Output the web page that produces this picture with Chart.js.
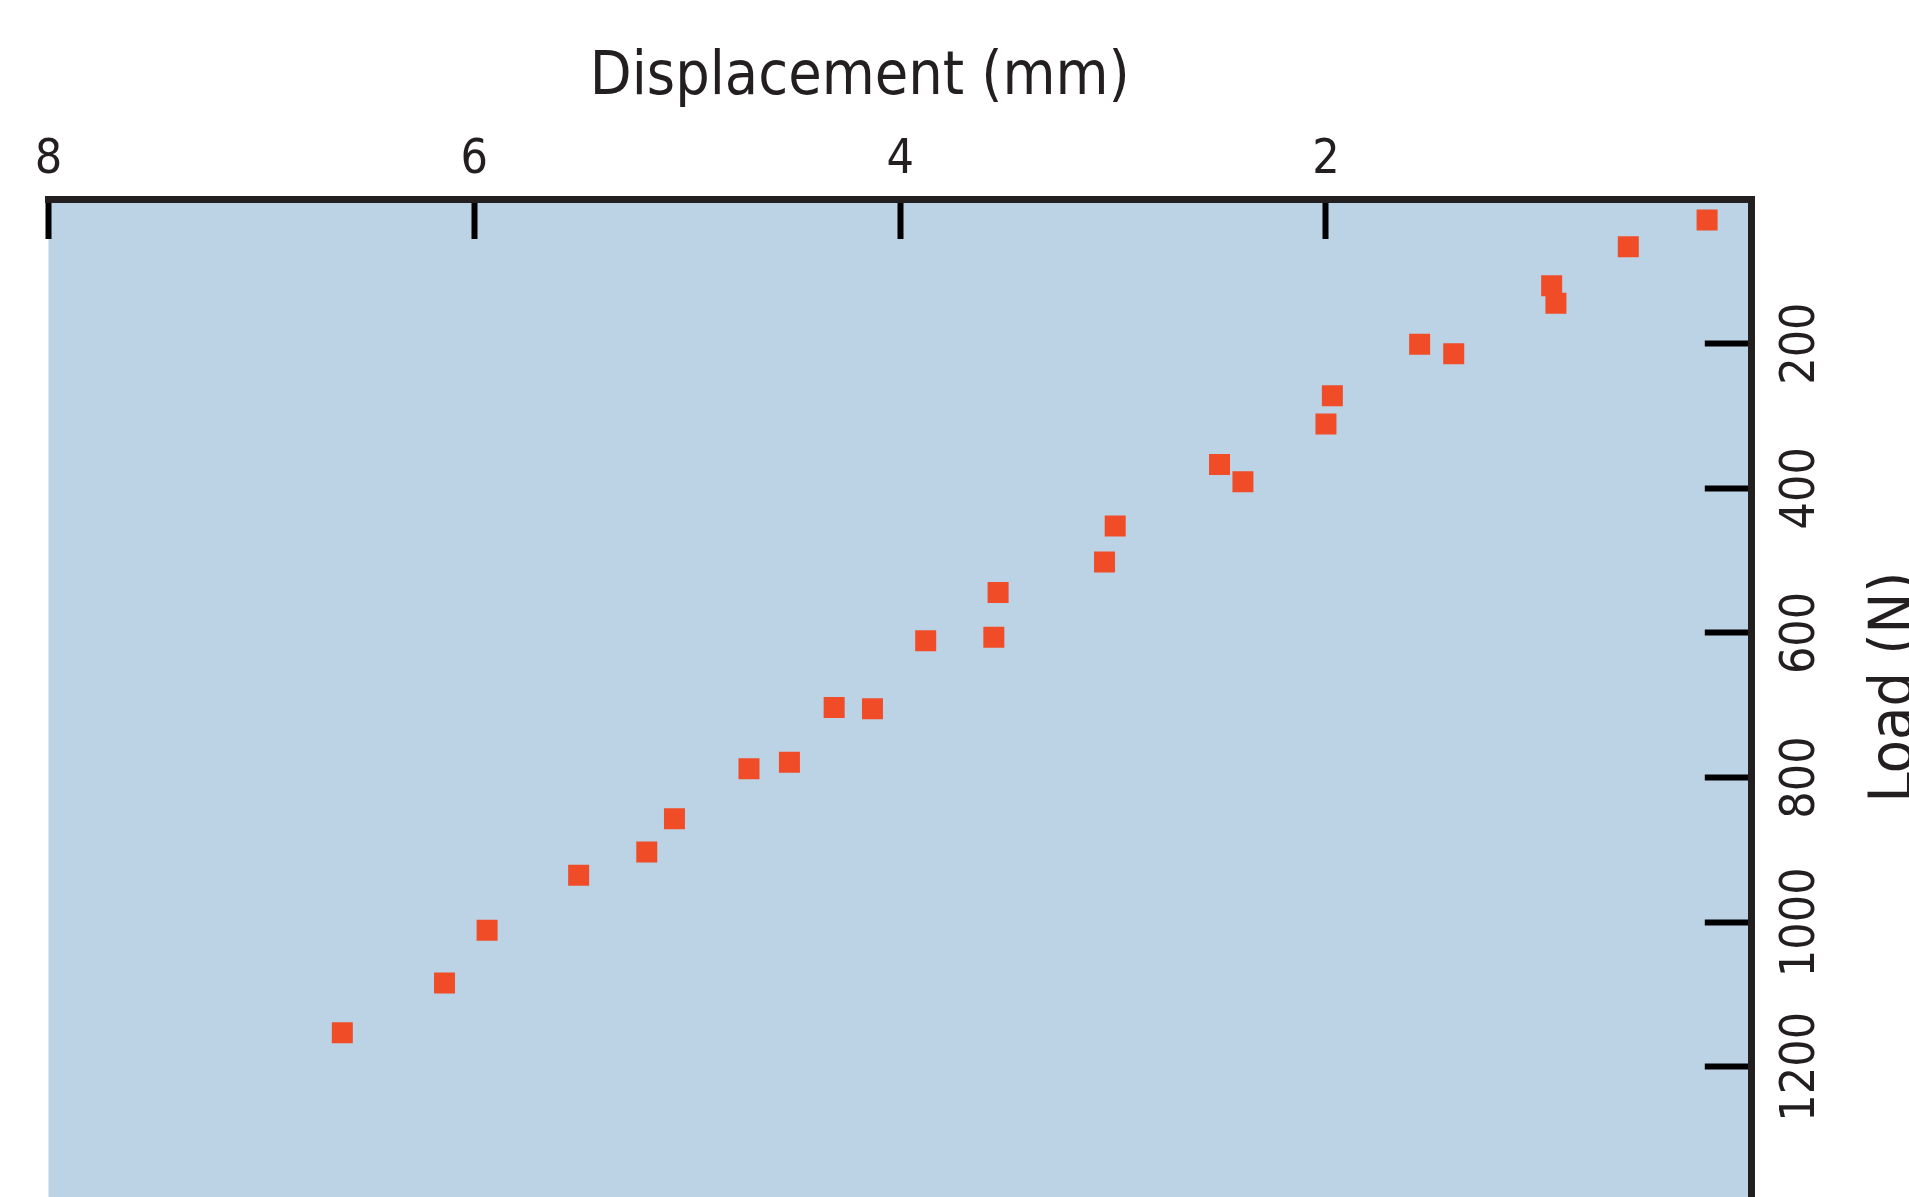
<!DOCTYPE html>
<html><head><meta charset="utf-8">
<script src="https://cdn.jsdelivr.net/npm/chart.js@4"></script>
<style>html,body{margin:0;padding:0;background:#fff;overflow:hidden}canvas{display:block}</style>
</head><body>
<canvas id="c" width="1909" height="1197"></canvas>
<script>
// ---- data ----
const displacementMm = [0.21, 0.58, 0.94, 0.92, 1.56, 1.40, 1.97, 2.00, 2.50, 2.39, 2.99, 3.04, 3.54, 3.56, 3.88, 4.31, 4.13, 4.71, 4.52, 5.06, 5.19, 5.51, 5.94, 6.14, 6.62];
const loadN          = [29, 66, 120, 144, 201, 214, 272, 311, 367, 391, 452, 502, 544, 606, 611, 703, 705, 788, 779, 857, 903, 935, 1011, 1084, 1153];
const xTickValues = [2, 4, 6, 8];
const yTickValues = [200, 400, 600, 800, 1000, 1200];
const xTitle = 'Displacement (mm)';
const yTitle = 'Load (N)';

// ---- style ----
const FONT = "'DejaVu Sans Condensed', 'DejaVu Sans', sans-serif";
const AX = '#231F20';
const BG = '#BCD3E6';
const MARK = '#F04C28';
const TICK_SIZE = 48;
const TITLE_SIZE = 60.5;

const mctx = document.createElement('canvas').getContext('2d');
mctx.font = TICK_SIZE + 'px ' + FONT;
const widest = Math.max(...yTickValues.map(v => mctx.measureText(String(v)).width));
const yLabelPad = 97 - widest / 2;

const points = displacementMm.map((x, i) => ({x, y: loadN[i]}));

const bgPlugin = {
  id: 'plotBg',
  beforeDraw(chart) {
    const {ctx, chartArea: a} = chart;
    ctx.save();
    ctx.fillStyle = BG;
    ctx.fillRect(a.left, a.top, a.right - a.left, a.bottom - a.top);
    ctx.restore();
  }
};

const titlePlugin = {
  id: 'axisTitles',
  afterDraw(chart) {
    const {ctx, chartArea: a} = chart;
    ctx.save();
    ctx.fillStyle = AX;
    ctx.font = TITLE_SIZE + 'px ' + FONT;
    ctx.textAlign = 'center';
    ctx.textBaseline = 'alphabetic';
    ctx.fillText(xTitle, a.left + (a.right - a.left) * 0.4763, a.top - 105);
    ctx.translate(a.right + 160, a.top + (a.bottom - a.top) * 0.489);
    ctx.rotate(-Math.PI / 2);
    ctx.fillText(yTitle, 0, 0);
    ctx.restore();
  }
};

new Chart(document.getElementById('c'), {
  type: 'scatter',
  data: {
    datasets: [{
      data: points,
      pointStyle: 'rect',
      pointRadius: 14.85,
      pointHoverRadius: 14.85,
      pointBackgroundColor: MARK,
      pointBorderWidth: 0,
      showLine: false
    }]
  },
  options: {
    responsive: false,
    animation: false,
    devicePixelRatio: 1,
    layout: {autoPadding: false, padding: {left: 48.5, right: 0, top: 0, bottom: 0}},
    plugins: {legend: {display: false}, tooltip: {enabled: false}, title: {display: false}},
    scales: {
      x: {
        type: 'linear', position: 'top', reverse: true, min: 0, max: 8,
        afterBuildTicks: s => { s.ticks = xTickValues.map(v => ({value: v})); },
        afterFit: s => { s.height = 199; s.paddingLeft = 0; s.paddingRight = 0; },
        border: {display: true, color: AX, width: 7},
        grid: {display: true, drawOnChartArea: false, drawTicks: true, tickLength: -40, tickWidth: 6, tickColor: '#000'},
        ticks: {color: AX, font: {size: TICK_SIZE, family: FONT}, padding: 49.5, minRotation: 0, maxRotation: 0, autoSkip: false, callback: v => String(v)}
      },
      y: {
        type: 'linear', position: 'right', reverse: true, min: 0, max: 1380,
        afterBuildTicks: s => { s.ticks = yTickValues.map(v => ({value: v})); },
        afterFit: s => { s.width = 1909 - 1751.8; s.paddingTop = 0; s.paddingBottom = 0; },
        border: {display: true, color: AX, width: 7},
        grid: {display: true, drawOnChartArea: false, drawTicks: true, tickLength: -47, tickWidth: 6, tickColor: '#000'},
        ticks: {color: AX, font: {size: TICK_SIZE, family: FONT}, padding: yLabelPad, minRotation: 90, maxRotation: 90, crossAlign: 'center', autoSkip: false, callback: v => String(v)}
      }
    }
  },
  plugins: [bgPlugin, titlePlugin]
});
</script>
</body></html>
